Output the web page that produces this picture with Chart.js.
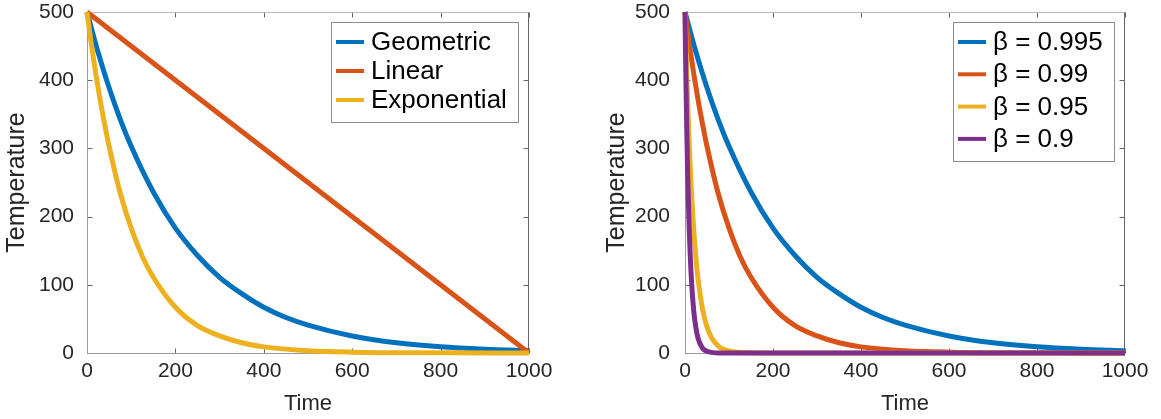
<!DOCTYPE html>
<html>
<head>
<meta charset="utf-8">
<script src="https://cdn.jsdelivr.net/npm/chart.js@4.4.0/dist/chart.umd.min.js"></script>
<style>
  body { margin: 0; background: #fff; }
  canvas { position: absolute; top: 0; }
  #grafEsq { left: 0; }
  #grafDir { left: 600px; }
</style>
</head>
<body>
<canvas id="grafEsq" width="560" height="419"></canvas>
<canvas id="grafDir" width="561" height="419"></canvas>
<script>
// escalonamentos de resfriamento (tempo x temperatura)
const tempoGeo = [0, 25, 50, 75, 100, 150, 200, 250, 300, 350, 400, 450, 500, 600, 700, 800, 900, 1000];
const tempGeo = [500, 441, 389, 343, 303, 236, 183, 143, 111, 87, 67, 52, 41, 25, 15, 9, 5.5, 3.3];

const tempoLin = [0, 1000];
const tempLin = [500, 0];

const tempoExp = [0, 10, 20, 30, 40, 50, 75, 100, 125, 150, 200, 250, 300, 350, 400, 500, 600, 800, 1000];
const tempExp = [500, 452, 409, 370, 335, 303, 235, 183, 142, 111, 67, 40, 25, 15, 9, 3.3, 1.2, 0.2, 0];

// geométrico com beta diferentes (0.995 e 0.99 são as mesmas curvas da esquerda)
const tempo095 = [0, 5, 10, 15, 20, 25, 30, 40, 50, 60, 70, 80, 100, 150, 200, 1000];
const temp095 = [500, 387, 299, 232, 179, 139, 107, 64, 38, 23, 14, 8, 3, 0.2, 0, 0];

const tempo09 = [0, 2, 4, 6, 8, 10, 15, 20, 25, 30, 40, 50, 60, 80, 1000];
const temp09 = [500, 405, 328, 266, 215, 174, 103, 61, 36, 21, 7, 2.6, 0.9, 0.1, 0];

const ticksX = [0, 200, 400, 600, 800, 1000];
const ticksY = [0, 100, 200, 300, 400, 500];

const azul = '#0072BD', laranja = '#D95319', amarelo = '#EDB120', roxo = '#7E2F8E';
const fonte = "'Liberation Sans', Arial, sans-serif";

function pontos(xs, ys) {
  return xs.map((x, i) => ({ x: x, y: ys[i] }));
}

function serie(label, xs, ys, cor, ordem) {
  return {
    label: label,
    data: pontos(xs, ys),
    borderColor: cor,
    backgroundColor: cor,
    borderWidth: 5,
    pointRadius: 0,
    cubicInterpolationMode: 'monotone',
    clip: false,
    order: ordem // a última série fica por cima
  };
}

// caixa dos eixos com ticks para dentro nos quatro lados
const caixaEixos = {
  id: 'caixaEixos',
  beforeDatasetsDraw(chart) {
    const { ctx, chartArea: a, scales: { x, y } } = chart;
    const L = Math.round(a.left) + 0.5, R = Math.round(a.right) - 0.5;
    const T = Math.round(a.top) + 0.5, B = Math.round(a.bottom) + 0.5;
    ctx.save();
    ctx.lineWidth = 1;
    ctx.strokeStyle = '#666';
    ctx.beginPath();
    ticksX.forEach(v => {
      const px = Math.round(x.getPixelForValue(v)) + 0.5;
      ctx.moveTo(px, B); ctx.lineTo(px, B - 5);
      ctx.moveTo(px, T); ctx.lineTo(px, T + 5);
    });
    ticksY.forEach(v => {
      const py = Math.round(y.getPixelForValue(v)) + 0.5;
      ctx.moveTo(L, py); ctx.lineTo(L + 5, py);
      ctx.moveTo(R, py); ctx.lineTo(R - 5, py);
    });
    ctx.stroke();
    ctx.strokeStyle = '#bbb';
    ctx.beginPath();
    ctx.moveTo(L, T); ctx.lineTo(R, T);
    ctx.stroke();
    ctx.strokeStyle = '#9a9a9a';
    ctx.beginPath();
    ctx.moveTo(L, T); ctx.lineTo(L, B); ctx.lineTo(R, B);
    ctx.stroke();
    ctx.strokeStyle = '#666';
    ctx.beginPath();
    ctx.moveTo(R, T); ctx.lineTo(R, B);
    ctx.stroke();
    ctx.restore();
  }
};

// legenda com moldura no canto superior direito
function legendaCaixa(altLinha) {
  return {
    id: 'legendaCaixa',
    afterDraw(chart) {
      const { ctx, chartArea: a } = chart;
      const sets = chart.data.datasets;
      ctx.save();
      ctx.font = '26px ' + fonte;
      let maxW = 0;
      sets.forEach(d => { maxW = Math.max(maxW, ctx.measureText(d.label).width); });
      const w = Math.round(40 + maxW + 11);
      const h = Math.round(42 + (sets.length - 1) * altLinha);
      const dir = Math.round(a.right) - 11, esq = dir - w, topo = 22;
      ctx.fillStyle = '#fff';
      ctx.fillRect(esq, topo, w, h);
      ctx.strokeStyle = '#8c8c8c';
      ctx.lineWidth = 1;
      ctx.strokeRect(esq + 0.5, topo + 0.5, w, h);
      sets.forEach((d, i) => {
        const cy = topo + 20 + i * altLinha;
        ctx.strokeStyle = d.borderColor;
        ctx.lineWidth = 4;
        ctx.beginPath();
        ctx.moveTo(esq + 5, cy); ctx.lineTo(esq + 33, cy);
        ctx.stroke();
        ctx.fillStyle = '#000';
        ctx.textBaseline = 'middle';
        ctx.fillText(d.label, esq + 40, cy + 1);
      });
      ctx.restore();
    }
  };
}

function opcoes(largY, padRotY, dirPad) {
  return {
    responsive: false,
    animation: false,
    layout: { padding: { top: 0, right: dirPad, left: 0, bottom: 0 } },
    plugins: { legend: { display: false }, tooltip: { enabled: false } },
    scales: {
      x: {
        type: 'linear', min: 0, max: 1000,
        afterBuildTicks: s => { s.ticks = ticksX.map(v => ({ value: v })); },
        afterFit: s => { s.height = 66; },
        grid: { display: false, drawTicks: false }, border: { display: false },
        ticks: {
          color: '#262626', font: { family: fonte, size: 21 }, padding: 6, maxRotation: 0,
          callback: v => String(v)
        },
        title: { display: true, text: 'Time', color: '#262626', font: { family: fonte, size: 22 }, padding: { top: 0, bottom: 2 } }
      },
      y: {
        type: 'linear', min: 0, max: 500,
        afterBuildTicks: s => { s.ticks = ticksY.map(v => ({ value: v })); },
        afterFit: s => { s.width = largY; s.paddingTop = 12; s.paddingBottom = 0; },
        grid: { display: false, drawTicks: false }, border: { display: false },
        ticks: { color: '#262626', font: { family: fonte, size: 21 }, padding: padRotY, callback: v => String(v) },
        title: { display: true, text: 'Temperature', color: '#262626', font: { family: fonte, size: 25 }, padding: { top: 2, bottom: 0 } }
      }
    }
  };
}

new Chart(document.getElementById('grafEsq'), {
  type: 'line',
  data: {
    datasets: [
      serie('Geometric', tempoGeo, tempGeo, azul, 3),
      serie('Linear', tempoLin, tempLin, laranja, 2),
      serie('Exponential', tempoExp, tempExp, amarelo, 1)
    ]
  },
  options: opcoes(87, 13, 31),
  plugins: [caixaEixos, legendaCaixa(29)]
});

new Chart(document.getElementById('grafDir'), {
  type: 'line',
  data: {
    datasets: [
      serie('β = 0.995', tempoGeo, tempGeo, azul, 4),
      serie('β = 0.99', tempoExp, tempExp, laranja, 3),
      serie('β = 0.95', tempo095, temp095, amarelo, 2),
      serie('β = 0.9', tempo09, temp09, roxo, 1)
    ]
  },
  options: opcoes(85, 15, 36),
  plugins: [caixaEixos, legendaCaixa(32.3)]
});
</script>
</body>
</html>
